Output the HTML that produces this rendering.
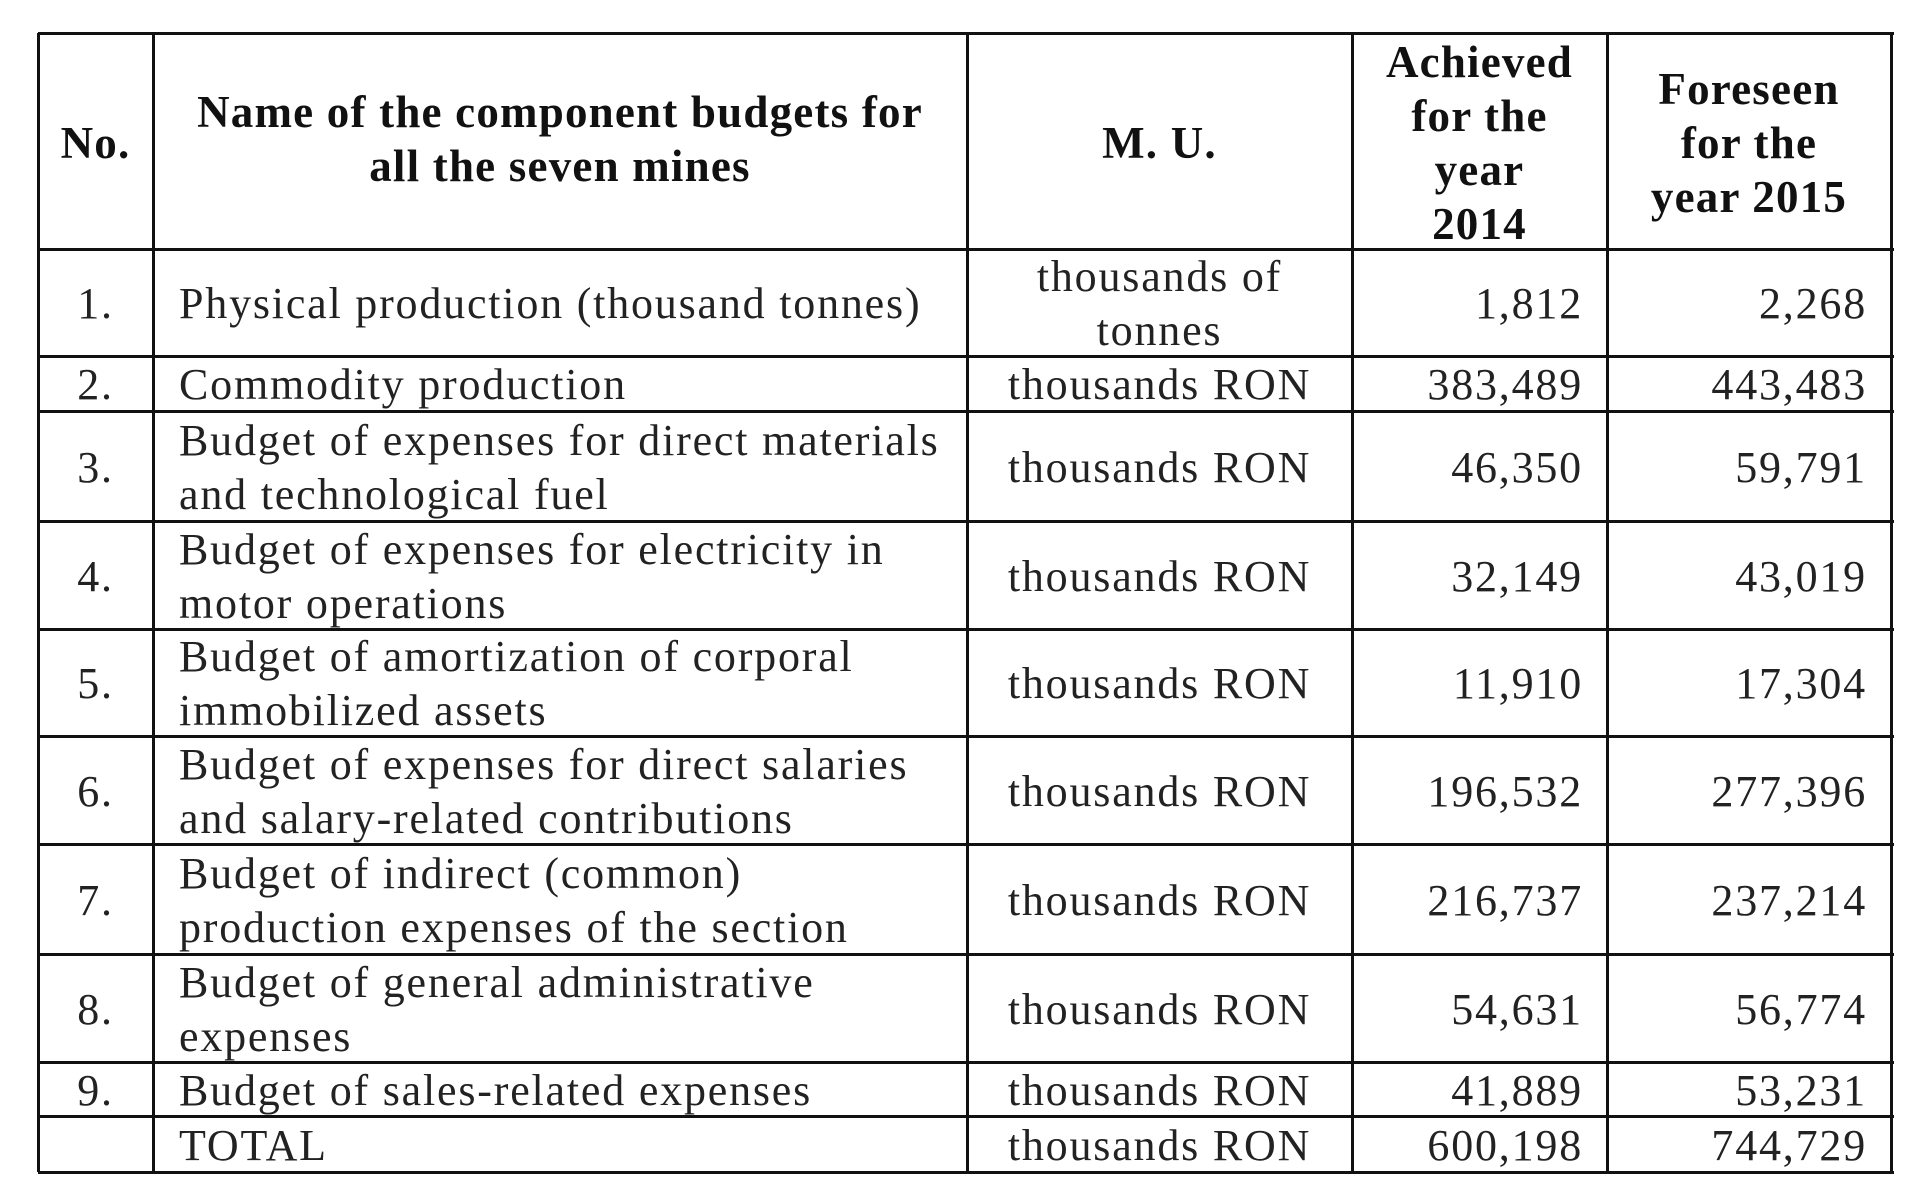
<!DOCTYPE html>
<html><head><meta charset="utf-8"><style>
body{margin:0;width:1920px;height:1178px;background:#fff;overflow:hidden;position:relative;font-family:"Liberation Serif",serif;color:#222}
.h{position:absolute;background:#111;height:3px}
.v{position:absolute;background:#111;width:3px}
.c{position:absolute;display:flex;align-items:center;font-size:44px;letter-spacing:1.8px;line-height:54px;box-sizing:border-box;white-space:nowrap;padding-top:3px}
.ctr{justify-content:center;text-align:center}
.lft{justify-content:flex-start;padding-left:26px}
.rgt{justify-content:flex-end;padding-right:24px}
.b{font-weight:bold;font-size:45px;letter-spacing:1.2px;color:#111}
</style></head><body>
<script>
const xs=[38,153,967,1352,1607,1891];
const ys=[33,249,356,411,521,629,736,844,954,1062,1116,1172];
const nums=["1.","2.","3.","4.","5.","6.","7.","8.","9.",""];
const names=["Physical production (thousand tonnes)","Commodity production","Budget of expenses for direct materials<br>and technological fuel","Budget of expenses for electricity in<br>motor operations","Budget of amortization of corporal<br>immobilized assets","Budget of expenses for direct salaries<br>and salary-related contributions","Budget of indirect (common)<br>production expenses of the section","Budget of general administrative<br>expenses","Budget of sales-related expenses","TOTAL"];
const units=["thousands of<br>tonnes","thousands RON","thousands RON","thousands RON","thousands RON","thousands RON","thousands RON","thousands RON","thousands RON","thousands RON"];
const v2014=["1,812","383,489","46,350","32,149","11,910","196,532","216,737","54,631","41,889","600,198"];
const v2015=["2,268","443,483","59,791","43,019","17,304","277,396","237,214","56,774","53,231","744,729"];
const g=document.body;
function cell(x0,x1,y0,y1,cls,html,name){
 const d=document.createElement('div');
 d.className='c '+cls;
 d.style.left=x0+'px';d.style.width=(x1-x0)+'px';d.style.top=y0+'px';d.style.height=(y1-y0)+'px';
 d.innerHTML=html;
 
 
 g.appendChild(d);
}
cell(xs[0],xs[1],ys[0],ys[1],'ctr b','No.','header-no');
cell(xs[1],xs[2],ys[0],ys[1]-8,'ctr b','Name of the component budgets for<br>all the seven mines','header-name');
cell(xs[2],xs[3],ys[0],ys[1],'ctr b','M. U.','header-mu');
cell(xs[3],xs[4],ys[0],ys[1],'ctr b','Achieved<br>for the<br>year<br>2014','header-2014');
cell(xs[4],xs[5],ys[0],ys[1],'ctr b','Foreseen<br>for the<br>year 2015','header-2015');
for(let i=0;i<names.length;i++){
 const y0=ys[i+1],y1=ys[i+2];
 cell(xs[0],xs[1],y0,y1,'ctr',nums[i],'row-number');
 cell(xs[1],xs[2],y0,y1,'lft',names[i],'budget-name');
 cell(xs[2],xs[3],y0,y1,'ctr',units[i],'unit');
 cell(xs[3],xs[4],y0,y1,'rgt',v2014[i],'value-2014');
 cell(xs[4],xs[5],y0,y1,'rgt',v2015[i],'value-2015');
}
ys.forEach(y=>{const d=document.createElement('div');d.className='h';d.style.left=xs[0]+'px';d.style.width=(xs[5]-xs[0]+3)+'px';d.style.top=(y-1)+'px';


g.appendChild(d);});
xs.forEach(x=>{const d=document.createElement('div');d.className='v';d.style.left=(x-1)+'px';d.style.top=ys[0]+'px';d.style.height=(ys[ys.length-1]-ys[0])+'px';


g.appendChild(d);});
</script>
</body></html>
